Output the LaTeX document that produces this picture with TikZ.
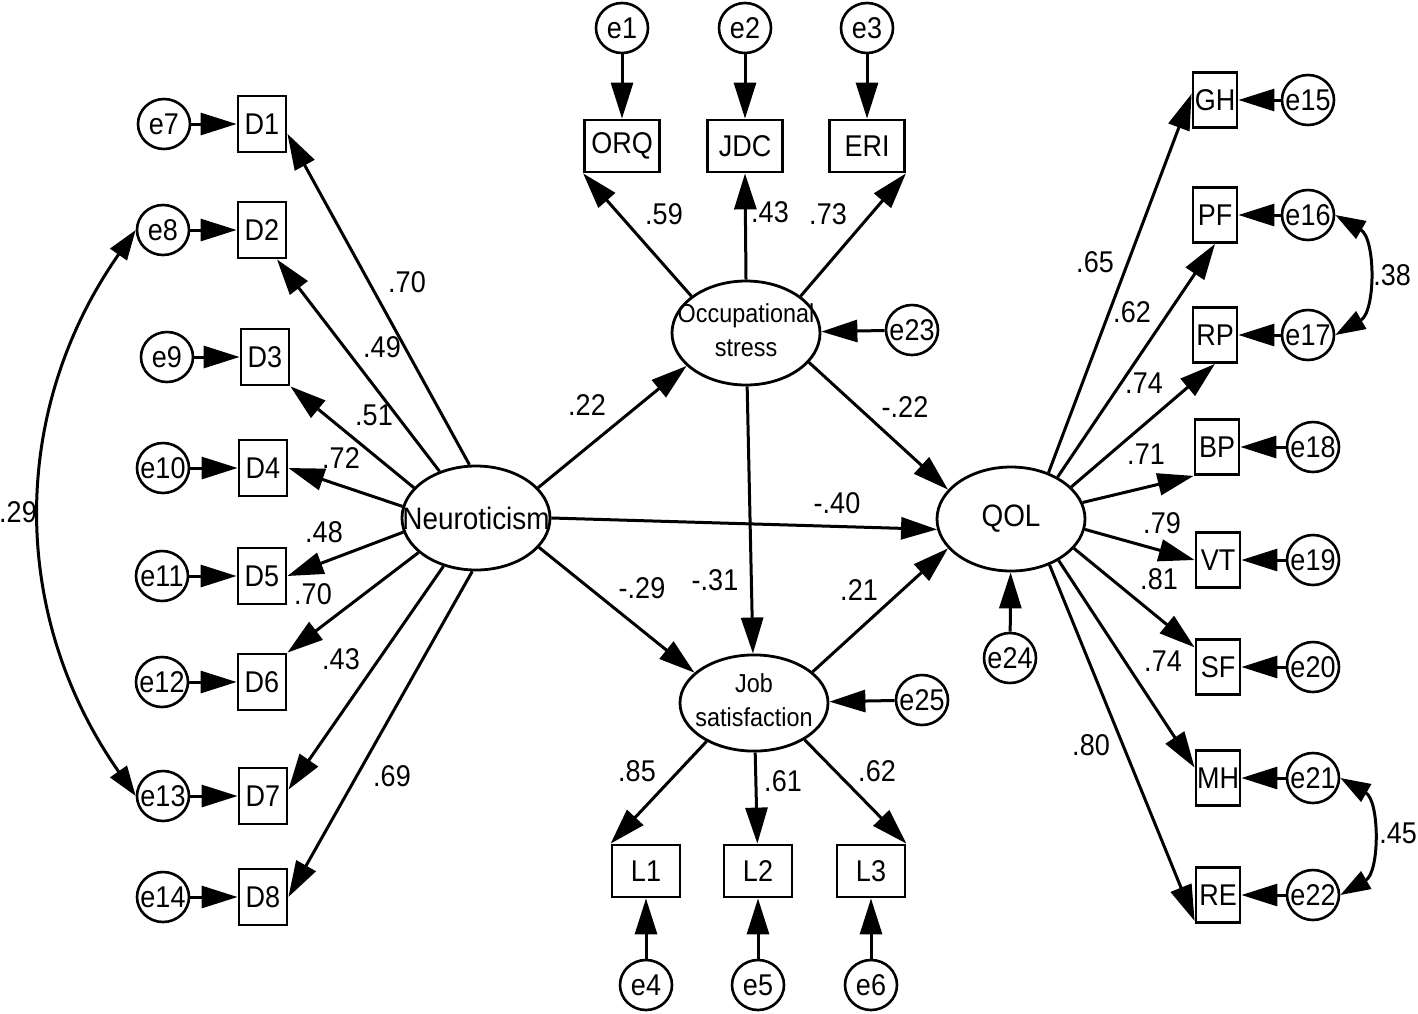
\documentclass[tikz,border=0pt]{standalone}
\usepackage{fontspec}
\setmainfont{Liberation Sans}[FakeStretch=0.9]
\usetikzlibrary{arrows.meta,shapes.geometric}
\newcommand\zw[1]{\makebox[0pt]{#1}}
\newcommand\zt[1]{\makebox[0pt]{\begin{tabular}{@{}c@{}}#1\end{tabular}}}
\begin{document}
\begin{tikzpicture}[x=0.5pt,y=-0.5pt,
 every node/.style={font=\fontsize{15}{17}\selectfont},
 obs/.style={draw, line width=1.4pt, rectangle, inner sep=0pt},
 dbox/.style={obs, minimum width=24pt, minimum height=28pt},
 tbox/.style={obs, minimum width=37.5pt, minimum height=26pt},
 lbox/.style={obs, minimum width=34pt, minimum height=26pt},
 rbox/.style={obs, minimum width=22pt, minimum height=27.5pt},
 lat/.style={draw, ellipse, line width=1.4pt, minimum width=74pt, minimum height=52pt, inner sep=0pt},
 err/.style={draw, ellipse, line width=1.3pt, minimum width=26pt, minimum height=25pt, inner sep=0pt},
 arr/.style={line width=1.5pt, -{Triangle[length=18pt,width=11pt]}},
 cov/.style={line width=1.5pt, {Triangle[length=15pt,width=10pt]}-{Triangle[length=15pt,width=10pt]}},
 lab/.style={font=\fontsize{15}{17}\selectfont, inner sep=0pt}
]
\useasboundingbox (0,0) rectangle (1418,1013);

% latent variables
\node[lat] (N) at (476,518) {\zw{\fontsize{15.5}{17}\selectfont Neuroticism}};
\node[lat] (OS) at (746,333) {\zt{\fontsize{13}{12.5}\selectfont Occupational\\\fontsize{13}{12.5}\selectfont stress}};
\node[lat, minimum height=48pt] (JS) at (754,703) {\zt{\fontsize{13}{12.5}\selectfont Job\\\fontsize{13}{12.5}\selectfont satisfaction}};
\node[lat] (QOL) at (1011,519) {\zw{\fontsize{15.5}{17}\selectfont QOL}};

% left indicators
\node[dbox] (D1) at (262,124) {D1};
\node[dbox] (D2) at (262,230) {D2};
\node[dbox] (D3) at (265,357) {D3};
\node[dbox] (D4) at (263,468) {D4};
\node[dbox] (D5) at (262,576) {D5};
\node[dbox] (D6) at (262,682) {D6};
\node[dbox] (D7) at (263,796) {D7};
\node[dbox] (D8) at (263,897) {D8};
\node[err] (e7) at (164,124) {\zw{e7}};
\node[err] (e8) at (163,230) {\zw{e8}};
\node[err] (e9) at (167,357) {\zw{e9}};
\node[err] (e10) at (163,468) {\zw{e10}};
\node[err] (e11) at (162,576) {\zw{e11}};
\node[err] (e12) at (162,682) {\zw{e12}};
\node[err] (e13) at (163,796) {\zw{e13}};
\node[err] (e14) at (163,897) {\zw{e14}};

% top indicators
\node[tbox] (ORQ) at (622,146) {ORQ};
\node[tbox] (JDC) at (745,146) {JDC};
\node[tbox] (ERI) at (867,146) {ERI};
\node[err] (e1) at (622,28) {\zw{e1}};
\node[err] (e2) at (745,28) {\zw{e2}};
\node[err] (e3) at (867,28) {\zw{e3}};

% bottom indicators
\node[lbox] (L1) at (646,871) {L1};
\node[lbox] (L2) at (758,871) {L2};
\node[lbox] (L3) at (871,871) {L3};
\node[err] (e4) at (646,985) {\zw{e4}};
\node[err] (e5) at (758,985) {\zw{e5}};
\node[err] (e6) at (871,985) {\zw{e6}};

% right indicators
\node[rbox] (GH) at (1215,100) {GH};
\node[rbox] (PF) at (1215,215) {PF};
\node[rbox] (RP) at (1215,335) {RP};
\node[rbox] (BP) at (1217,447) {BP};
\node[rbox] (VT) at (1218,560) {VT};
\node[rbox] (SF) at (1218,667) {SF};
\node[rbox] (MH) at (1218,778) {MH};
\node[rbox] (RE) at (1218,895) {RE};
\node[err] (e15) at (1308,100) {\zw{e15}};
\node[err] (e16) at (1308,215) {\zw{e16}};
\node[err] (e17) at (1308,335) {\zw{e17}};
\node[err] (e18) at (1313,447) {\zw{e18}};
\node[err] (e19) at (1313,560) {\zw{e19}};
\node[err] (e20) at (1313,667) {\zw{e20}};
\node[err] (e21) at (1313,778) {\zw{e21}};
\node[err] (e22) at (1313,895) {\zw{e22}};

% disturbances
\node[err] (e23) at (912,330) {\zw{e23}};
\node[err] (e25) at (922,700) {\zw{e25}};
\node[err] (e24) at (1010,658) {\zw{e24}};

% Neuroticism loadings
\draw[arr] (N.97) -- (D1.-21);
\draw[arr] (N.128) -- (D2.-63);
\draw[arr] (N.154) -- (D3.south east);
\draw[arr] (N.171) -- (D4.east);
\draw[arr] (N.191) -- (D5.east);
\draw[arr] (N.211) -- (D6.north east);
\draw[arr] (N.236) -- (D7.14);
\draw[arr] (N.266) -- (D8.east);
\foreach \i/\d in {7/1,8/2,9/3,10/4,11/5,12/6,13/7,14/8} \draw[arr] (e\i) -- (D\d);

% Occupational stress
\draw[arr] (e1) -- (ORQ);
\draw[arr] (e2) -- (JDC);
\draw[arr] (e3) -- (ERI);
\draw[arr] (OS.146) -- (ORQ.south west);
\draw[arr] (OS.90) -- (JDC.south);
\draw[arr] (OS.34) -- (ERI.south east);
\draw[arr] (e23) -- (OS);

% structural paths
\draw[arr] (N.26) -- (OS.209);
\draw[arr] (N.east) -- (QOL.188);
\draw[arr] (N.-25) -- (JS.153);
\draw[arr] (OS) -- (JS);
\draw[arr] (OS.-25) -- (QOL.155);
\draw[arr] (JS.28) -- (QOL.205);
\draw[arr] (e25) -- (JS);
\draw[arr] (e24) -- (QOL);

% Job satisfaction
\draw[arr] (JS.219) -- (L1.north west);
\draw[arr] (JS) -- (L2);
\draw[arr] (JS.-36) -- (L3.north east);
\draw[arr] (e4) -- (L1);
\draw[arr] (e5) -- (L2);
\draw[arr] (e6) -- (L3);

% QOL loadings
\draw[arr] (QOL.51) -- (GH.165);
\draw[arr] (QOL.42) -- (PF.south);
\draw[arr] (QOL.28) -- (RP.south);
\draw[arr] (QOL.13) -- (BP.south west);
\draw[arr] (QOL.-8) -- (VT.west);
\draw[arr] (QOL.-25) -- (SF.140);
\draw[arr] (QOL.-41) -- (MH.156);
\draw[arr] (QOL.-50) -- (RE.228);
\draw[arr] (e15) -- (GH);
\draw[arr] (e16) -- (PF);
\draw[arr] (e17) -- (RP);
\draw[arr] (e18) -- (BP);
\draw[arr] (e19) -- (VT);
\draw[arr] (e20) -- (SF);
\draw[arr] (e21) -- (MH);
\draw[arr] (e22) -- (RE);

% covariances
\draw[cov] (e8.west) to[out=235,in=125] (e13.west);
\draw[cov] (e16.east) to[out=-30,in=30,looseness=1.0] (e17.east);
\draw[cov] (e21.east) to[out=-30,in=30,looseness=1.0] (e22.east);

% labels
\node[lab] (l1) at (407,282) {.70};
\node[lab] (l2) at (382,347) {.49};
\node[lab] (l3) at (374,415) {.51};
\node[lab] (l4) at (341,458) {.72};
\node[lab] (l5) at (324,532) {.48};
\node[lab] (l6) at (313,594) {.70};
\node[lab] (l7) at (341,659) {.43};
\node[lab] (l8) at (392,776) {.69};
\node[lab] (l9) at (664,214) {.59};
\node[lab] (l10) at (770,212) {.43};
\node[lab] (l11) at (828,214) {.73};
\node[lab] (l12) at (587,405) {.22};
\node[lab] (l13) at (905,407) {-.22};
\node[lab] (l14) at (837,503) {-.40};
\node[lab] (l15) at (642,588) {-.29};
\node[lab] (l16) at (715,580) {-.31};
\node[lab] (l17) at (859,590) {.21};
\node[lab] (l18) at (637,771) {.85};
\node[lab] (l19) at (783,781) {.61};
\node[lab] (l20) at (877,771) {.62};
\node[lab] (l21) at (1095,262) {.65};
\node[lab] (l22) at (1132,312) {.62};
\node[lab] (l23) at (1144,383) {.74};
\node[lab] (l24) at (1146,454) {.71};
\node[lab] (l25) at (1162,523) {.79};
\node[lab] (l26) at (1159,579) {.81};
\node[lab] (l27) at (1163,661) {.74};
\node[lab] (l28) at (1091,745) {.80};
\node[lab] (l29) at (1392,275) {.38};
\node[lab] (l30) at (1398,833) {.45};
\node[lab] (l31) at (18,512) {.29};
\end{tikzpicture}
\end{document}
